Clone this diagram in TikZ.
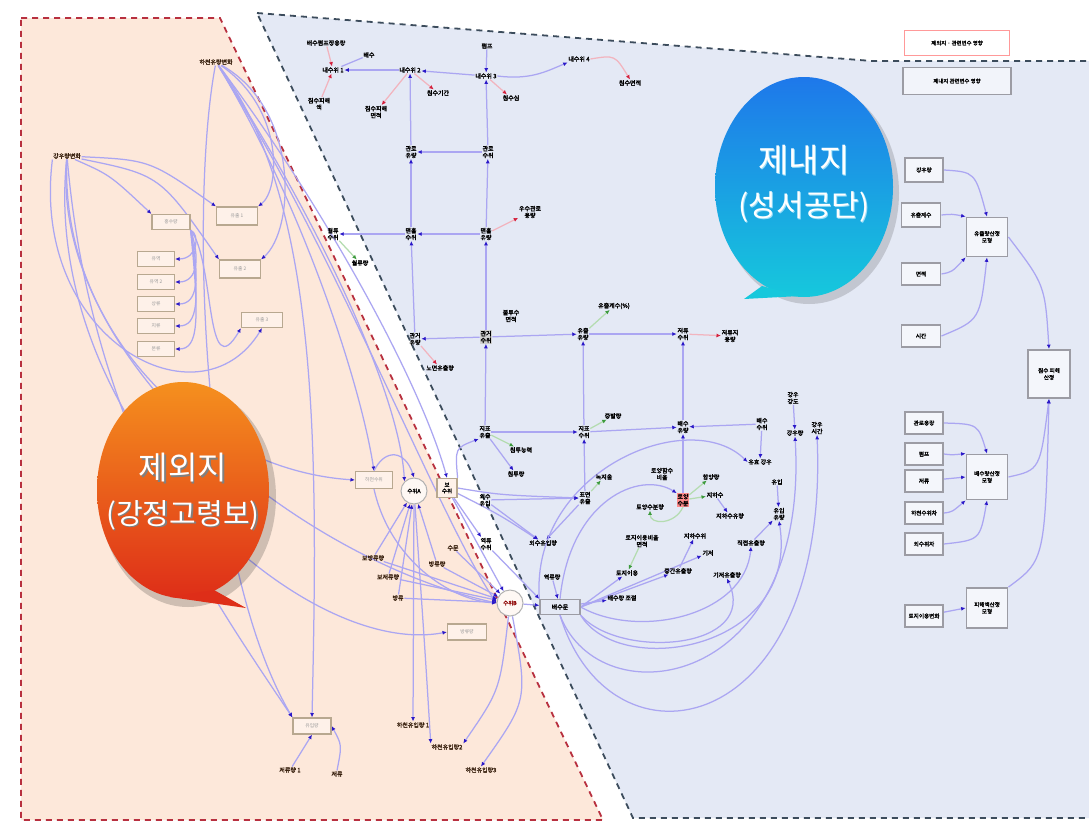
\documentclass[tikz,border=0pt]{standalone}
\usepackage{fontspec}
\newfontfamily\kr{Noto Sans CJK KR}
\newfontfamily\krb[FakeBold=2.2]{Noto Sans CJK KR}
\usetikzlibrary{arrows.meta}
\definecolor{peach}{HTML}{FDE8DA}
\definecolor{paleblue}{HTML}{E4E9F5}
\definecolor{redline}{HTML}{B8303F}
\definecolor{slateline}{HTML}{3C4C5C}
\definecolor{edgeblue}{HTML}{ABA6F2}
\definecolor{headblue}{HTML}{2A18C8}
\definecolor{edgered}{HTML}{F2B4BE}
\definecolor{headred}{HTML}{D4203C}
\definecolor{edgegreen}{HTML}{B4DCB0}
\definecolor{headgreen}{HTML}{3C9A3C}
\definecolor{boxbrown}{HTML}{B8A890}
\definecolor{boxgray}{HTML}{9C9CA4}
\definecolor{orangetop}{HTML}{F5901E}
\definecolor{orangebot}{HTML}{DE2E18}
\definecolor{bluetop}{HTML}{1E78EA}
\definecolor{bluebot}{HTML}{16C8DC}
\definecolor{labelbrown}{HTML}{3A2210}
\pgfdeclarelayer{bg}
\pgfdeclarelayer{edgelayer}
\pgfdeclarelayer{fg}
\pgfsetlayers{bg,edgelayer,main,fg}
\tikzset{
  lbl/.style={font=\krb\fontsize{6}{6.8}\selectfont, text=black, inner sep=0.6pt, align=center},
  lbn/.style={lbl, text=labelbrown},
  lbox/.style={draw=boxbrown, line width=1.2pt, fill=peach!60!white, minimum width=38pt, minimum height=15pt,
    inner sep=1pt, align=center, font=\kr\fontsize{4.8}{5.4}\selectfont, text=black!40},
  rbox/.style={draw=boxgray, line width=1.9pt, fill=paleblue!40!white, align=center, inner sep=1pt,
    font=\krb\fontsize{5.6}{6.8}\selectfont},
  ring/.style={circle, draw=black!30, line width=1pt, fill=white!70!peach, minimum size=26pt, inner sep=0pt,
    font=\krb\fontsize{5.4}{6}\selectfont},
  ed/.style={draw=edgeblue, line width=1.25pt, -{Latex[length=4.4pt,width=4pt,color=headblue]}},
  edr/.style={draw=edgered, line width=1.25pt, -{Latex[length=4.4pt,width=4pt,color=headred]}},
  edg/.style={draw=edgegreen, line width=1.25pt, -{Latex[length=4.4pt,width=4pt,color=headgreen]}},
  pl/.style={draw=edgeblue, line width=1.25pt},
  bigtxt/.style={font=\kr\fontsize{#1}{#1}\selectfont, text=white, inner sep=0pt},
}
\begin{document}
\begin{tikzpicture}[x=1pt,y=-1pt]
\useasboundingbox (0,0) rectangle (1089,828);
\clip (0,0) rectangle (1089,828);

% ---------- regions ----------
\begin{pgfonlayer}{bg}
  \fill[white] (0,0) rectangle (1089,828);
  \draw[fill=peach, draw=redline, line width=1.8pt, dash pattern=on 6pt off 5pt]
    (21,18) -- (220,18) -- (603,820) -- (21,820) -- cycle;
  \draw[fill=paleblue, draw=slateline, line width=1.8pt, dash pattern=on 6pt off 5pt]
    (257,13) -- (872,61) -- (1100,61) -- (1100,818) -- (633,818) -- cycle;
\end{pgfonlayer}

% ---------- outer-side variables ----------
\node[lbn] (P1) at (216,62) {하천유량변화};
\node[lbn] (P2) at (67,156) {강우량변화};
\node[lbox] (Q1) at (171,222) {홍수량};
\node[lbox, minimum width=41pt, minimum height=18pt] (Q2) at (237,216) {유출 1};
\node[lbox, minimum width=41pt, minimum height=18pt] (Q3) at (240,269) {유출 2};
\node[lbox, minimum width=37pt] (R1) at (156,259) {유역};
\node[lbox, minimum width=37pt] (R2) at (156,282) {유역 2};
\node[lbox, minimum width=37pt] (R3) at (156,304) {상류};
\node[lbox, minimum width=37pt] (R4) at (156,326) {지류};
\node[lbox, minimum width=37pt] (R5) at (156,349) {본류};
\node[lbox, minimum width=41pt] (Q4) at (262,320) {유출 3};
\node[lbox, minimum width=37pt, minimum height=17pt] (S1) at (374,480) {하천수위};
\node[ring] (C1) at (414,491) {수위A};
\node[lbox, minimum width=20pt, minimum height=19pt, text=black, font=\krb\fontsize{5.4}{6.2}\selectfont] (S2) at (447,488) {보\\수위};
\node[ring, text=red!55!black] (C2) at (510,603) {수위B};
\node[lbox, minimum width=39pt, minimum height=16pt] (S3) at (467,632) {방류량};
\node[lbox, minimum width=38pt, minimum height=16pt] (S4) at (312,726) {유입량};
\node[lbn] (T1) at (290,770) {저류량 1};
\node[lbn] (T2) at (337,774) {저류};
\node[lbn] (U1) at (413,725) {하천유입량 1};
\node[lbn] (U2) at (447,747) {하천유입량2};
\node[lbn] (U3) at (481,770) {하천유입량3};
\node[lbn] (V1) at (373,558) {보방류량};
\node[lbn] (V2) at (388,577) {보저류량};
\node[lbn] (V3) at (398,598) {방류};
\node[lbn] (V4) at (437,564) {방류량};
\node[lbn] (V5) at (453,548) {수문};

% ---------- inner-side network ----------
\node[lbl] (La) at (326,43) {배수펌프장용량};
\node[lbl] (Lb) at (369,55) {배수};
\node[lbl] (Lc) at (333,70) {내수위 1};
\node[lbl] (Ld) at (410,70) {내수위 2};
\node[lbl] (Le) at (486,76) {내수위 3};
\node[lbl] (Lf) at (487,46) {펌프};
\node[lbl] (Lg) at (579,59) {내수위 4};
\node[lbl] (Lh) at (630,83) {침수면적};
\node[lbl] (Li) at (511,98) {침수심};
\node[lbl] (Lj) at (319,104) {침수피해\\액};
\node[lbl] (Lk) at (376,112) {침수피해\\면적};
\node[lbl] (Ll) at (438,93) {침수기간};
\node[lbl] (Lm) at (411,152) {관로\\유량};
\node[lbl] (Ln) at (488,152) {관로\\수위};
\node[lbl] (Lo) at (411,234) {맨홀\\수위};
\node[lbl] (Lp) at (486,234) {맨홀\\유량};
\node[lbl] (Lq) at (333,234) {월류\\수위};
\node[lbl] (Lr) at (360,263) {월류량};
\node[lbl] (Ls) at (530,212) {우수관로\\용량};
\node[lbl] (Lt) at (415,339) {관거\\유량};
\node[lbl, fill=black!18] (Lu) at (486,337) {관거\\수위};
\node[lbl] (Lv) at (511,316) {불투수\\면적};
\node[lbl] (Lw) at (440,368) {노면유출량};
\node[lbl] (Lx) at (583,334) {유출\\유량};
\node[lbl] (Ly) at (614,306) {유출계수(\%)};
\node[lbl] (Lz) at (683,334) {저류\\수위};
\node[lbl] (Laa) at (730,336) {저류지\\용량};
\node[lbl] (N1) at (485,432) {지표\\유출};
\node[lbl] (N2) at (584,432) {지표\\수위};
\node[lbl] (N3) at (683,427) {배수\\유량};
\node[lbl] (N4) at (762,424) {배수\\수위};
\node[lbl] (N5) at (613,416) {증발량};
\node[lbl] (N6) at (521,450) {침투능력};
\node[lbl] (N7) at (516,474) {침투량};
\node[lbl] (N8) at (793,398) {강우\\강도};
\node[lbl] (N9) at (795,433) {강우량};
\node[lbl] (N11) at (817,428) {강우\\시간};
\node[lbl] (N10) at (760,462) {유효 강우};
\node[lbl] (N12) at (777,482) {유입};
\node[lbl] (N13) at (779,514) {유입\\유량};
\node[lbl] (N14) at (751,543) {직접유출량};
\node[lbl] (N15) at (708,553) {기저};
\node[lbl] (N16) at (727,575) {기저유출량};
\node[lbl] (N17) at (678,571) {중간유출량};
\node[lbl] (N18) at (695,536) {지하수위};
\node[lbl] (N19) at (650,507) {토양수분량};
\node[lbl] (N20) at (662,474) {토양함수\\비율};
\node[lbl] (N21) at (711,477) {함양량};
\node[lbl] (N22) at (715,495) {지하수};
\node[lbl] (N23) at (730,516) {지하수유량};
\node[lbl, fill=red!45!white] (Nred) at (683,500) {토양\\수분};
\node[lbl] (N24) at (642,541) {토지이용비율\\면적};
\node[lbl] (N25) at (627,573) {토지이용};
\node[lbl] (N26) at (604,477) {녹지율};
\node[lbl] (N27) at (585,498) {표면\\유출};
\node[lbl] (N28) at (485,500) {외수\\유입};
\node[lbl] (N29) at (543,543) {외수유입량};
\node[lbl] (N30) at (486,544) {역류\\수위};
\node[lbl] (N32) at (552,577) {역류량};
\node[lbl] (N33) at (622,598) {배수량 조절};
\node[lbl, draw=boxgray, line width=1.3pt, fill=paleblue, minimum width=40pt, minimum height=15pt] (M) at (560,607) {배수문};

% ---------- model blocks ----------
\node[rbox, minimum width=38pt, minimum height=24pt] (A1) at (924,170) {강우량};
\node[rbox, minimum width=39pt, minimum height=24pt] (A2) at (921,215) {유출계수};
\node[rbox, minimum width=39pt, minimum height=22pt] (A3) at (921,274) {면적};
\node[rbox, minimum width=39pt, minimum height=22pt] (A4) at (921,336) {시간};
\node[rbox, minimum width=41pt, minimum height=39pt] (H1) at (987,237) {유출량산정\\모형};
\node[rbox, minimum width=42pt, minimum height=48pt] (HB) at (1049,374) {침수 피해\\산정};
\node[rbox, minimum width=38pt, minimum height=22pt] (B1) at (924,423) {관로용량};
\node[rbox, minimum width=38pt, minimum height=22pt] (B2) at (924,454) {펌프};
\node[rbox, minimum width=38pt, minimum height=22pt] (B3) at (924,481) {저류};
\node[rbox, minimum width=38pt, minimum height=22pt] (B4) at (924,513) {하천수위차};
\node[rbox, minimum width=38pt, minimum height=22pt] (B5) at (924,544) {외수위차};
\node[rbox, minimum width=41pt, minimum height=45pt] (H2) at (987,477) {배수량산정\\모형};
\node[rbox, minimum width=38pt, minimum height=22pt] (CC1) at (924,616) {토지이용변화};
\node[rbox, minimum width=41pt, minimum height=40pt] (H3) at (987,608) {피해액산정\\모형};

% ---------- legend ----------
\node[draw=red!40!white, line width=1.3pt, fill=white, minimum width=105pt, minimum height=25pt,
  font=\krb\fontsize{5.4}{6}\selectfont] (G1) at (957,43) {제외지 · 관련변수 영향};
\node[draw=boxgray, line width=1.3pt, fill=paleblue!50!white, minimum width=108pt, minimum height=27pt,
  font=\krb\fontsize{5.4}{6}\selectfont] (G2) at (957,81) {제내지 관련변수 영향};

% ---------- connectors ----------
\begin{pgfonlayer}{edgelayer}
  % outer side
  \draw[ed] (P2) .. controls (110,175) .. (Q1.north west);
  \draw[ed] (P2) .. controls (150,160) .. (Q2.north west);
  \draw[ed] (P2) .. controls (160,175) .. (Q3.north west);
  \draw[ed] (P2.south west) .. controls (30,340) and (200,430) .. (Q4.south);
  \draw[ed] (P2) .. controls (60,330) and (200,470) .. (S1.west);
  \draw[ed] (P2) .. controls (50,360) and (300,560) .. (C2.west);
  \draw[ed] (P2) .. controls (40,420) and (300,660) .. (S3.west);
  \draw[ed] (P2) .. controls (90,420) and (200,580) .. (S4.north west);
  \draw[ed] (P1) .. controls (285,110) and (280,190) .. (Q2.north east);
  \draw[ed] (P1) .. controls (300,110) and (295,230) .. (Q3.north east);
  \draw[ed] (P1) .. controls (190,200) and (200,560) .. (S4.north west);
  \draw[ed] (P1) .. controls (320,200) and (318,450) .. (S4.north);
  \draw[ed] (P1) .. controls (300,200) and (360,380) .. (S1.north);
  \draw[ed] (P1) .. controls (320,200) and (420,380) .. (S2.north);
  \draw[ed] (P1) .. controls (340,260) and (440,520) .. (C2.west);
  \draw[ed] (P1) .. controls (330,240) and (400,400) .. (C1.north west);
  \foreach \r/\yy in {R1/259,R2/282,R3/304,R4/326,R5/349}
    \draw[ed] (Q1.south east) .. controls (200,\yy-25) and (198,\yy) .. (\r.east);
  \draw[ed] (Q1.south east) .. controls (215,260) and (205,390) .. (Q4.south west);
  \draw[ed] (S1.north) .. controls (385,448) and (405,450) .. (C1.north);
  \draw[ed] (S1.south) .. controls (390,560) and (450,600) .. (C2.west);
  \draw[ed] (V1) -- (C1);
  \draw[ed] (V2) -- (C1);
  \draw[ed] (V3) -- (C1);
  \draw[ed] (V4) -- (C1);
  \draw[ed] (V1) -- (C2);
  \draw[ed] (V2) -- (C2);
  \draw[ed] (V3) -- (C2);
  \draw[ed] (V4) -- (C2);
  \draw[ed] (V5) -- (C2);
  \draw[ed] (S2) -- (C2);
  \draw[ed] (C1) -- (U1);
  \draw[ed] (C1) .. controls (425,650) .. (U2.north west);
  \draw[ed] (C2) .. controls (500,690) .. (U2.north east);
  \draw[ed] (C2) .. controls (528,700) .. (U3.north);
  \draw[ed] (T1) -- (S4.south);
  \draw[ed] (T2.north) .. controls (342,745) .. (S4.east);
  % crossing into the inner side
  \draw[ed] (C2) -- (M);
  \draw[ed] (S2.east) .. controls (500,495) .. (N27.west);
  \draw[ed] (S2.north east) .. controls (455,448) .. (N1.south west);
  \draw[ed] (S2) -- (N30);
  \draw[ed] (S2) .. controls (500,515) .. (N29);
  \draw[ed] (N30) -- (M.north west);
  \draw[ed] (N32) -- (M);
  % inner side, upper grid
  \draw[edr] (La) -- (Lc);
  \draw[pl] (Lb) -- (Lc);
  \draw[ed] (Ld) -- (Lc);
  \draw[ed] (Le) -- (Ld);
  \draw[ed] (Lf) -- (Le);
  \draw[ed] (Le.east) .. controls (530,80) and (545,72) .. (Lg.south west);
  \draw[edr] (Lg.east) .. controls (615,55) .. (Lh.north);
  \draw[edr] (Le) -- (Li);
  \draw[edr] (Lj) -- (Lc);
  \draw[edr] (Ld) -- (Lk);
  \draw[edr] (Ld) -- (Ll);
  \draw[ed] (Lm) -- (Ld);
  \draw[ed] (Ln) -- (Le);
  \draw[ed] (Ln) -- (Lm);
  \draw[ed] (Lo) -- (Lm);
  \draw[ed] (Lp) -- (Ln);
  \draw[ed] (Lp) -- (Lo);
  \draw[ed] (Lo) -- (Lq);
  \draw[edg] (Lq) -- (Lr);
  \draw[edr] (Lp) -- (Ls);
  \draw[ed] (Lt) -- (Lo);
  \draw[ed] (Lu) -- (Lp);
  \draw[ed] (Lu) -- (Lt);
  \draw[edr] (Lt) -- (Lw);
  \draw[ed] (Lu) -- (Lx);
  \draw[edg] (Lx) -- (Ly);
  \draw[ed] (Lx) -- (Lz);
  \draw[edr] (Lz) -- (Laa);
  \draw[ed] (N1) -- (Lu);
  \draw[ed] (N2) -- (Lx);
  \draw[ed] (N3) -- (Lz);
  \draw[ed] (N1) -- (N2);
  \draw[ed] (N2) -- (N3);
  \draw[ed] (N4) -- (N3);
  \draw[edg] (N2) -- (N5);
  \draw[edg] (N1) -- (N6);
  \draw[ed] (N1) -- (N7);
  \draw[ed] (N27) -- (N2);
  \draw[edg] (N27) -- (N26);
  \draw[ed] (N28) -- (N27);
  \draw[ed] (N28) -- (N29);
  \draw[ed] (N27) -- (N29);
  \draw[ed] (Nred) -- (N3);
  \draw[ed] (N4) -- (N10);
  \draw[ed] (N8) -- (N9);
  \draw[ed] (N12) -- (N13);
  \draw[ed] (N14) -- (N13);
  \draw[edg] (Nred.south) .. controls (675,525) and (650,525) .. (N19.south);
  \draw[edg] (Nred) -- (N21);
  \draw[edg] (Nred) -- (N22);
  \draw[ed] (N22) -- (N23);
  \draw[edg] (N24) -- (N25);
  \draw[ed] (N17) -- (N18);
  % inner side, fan from the sluice
  \draw[ed] (M) -- (N33);
  \draw[ed] (M.east) -- (N25);
  \draw[ed] (M.east) -- (N17);
  \draw[ed] (M.east) -- (N15);
  \draw[ed] (M.north west) .. controls (530,470) and (690,405) .. (N10.west);
  \draw[ed] (M.north) .. controls (570,500) and (640,470) .. (Nred.north west);
  \draw[ed] (M.east) .. controls (640,640) and (745,615) .. (N14.south);
  \draw[ed] (M.south east) .. controls (620,660) and (760,650) .. (N16.south);
  \draw[ed] (M.south east) .. controls (620,680) and (800,650) .. (N13.south);
  \draw[ed] (M.south) .. controls (600,720) and (810,690) .. (N9.south);
  \draw[ed] (M.south) .. controls (610,780) and (830,740) .. (N11.south);
  % model blocks
  \draw[ed] (A1.east) .. controls (975,172) .. (H1.north);
  \draw[ed] (A2.east) .. controls (952,214) .. (H1.north west);
  \draw[ed] (A3.east) .. controls (952,272) .. (H1.south west);
  \draw[ed] (A4.east) .. controls (980,320) .. (H1.south);
  \draw[ed] (H1.east) .. controls (1045,285) .. (HB.north);
  \draw[ed] (B1.east) .. controls (978,424) .. (H2.north);
  \draw[ed] (B2.east) .. controls (952,455) .. (H2.north west);
  \draw[ed] (B3) -- (H2.west);
  \draw[ed] (B4.east) .. controls (952,512) .. (H2.south west);
  \draw[ed] (B5.east) .. controls (980,540) .. (H2.south);
  \draw[ed] (CC1) -- (H3.west);
  \draw[ed] (H2.east) .. controls (1040,470) .. (HB.south);
  \draw[ed] (H3.north east) .. controls (1045,560) .. (HB.south);
\end{pgfonlayer}

% ---------- speech bubbles ----------
\begin{pgfonlayer}{fg}
  \fill[black, opacity=0.18] (188,497) ellipse [x radius=88, y radius=110];
  \shade[top color=orangetop, bottom color=orangebot]
    (183,490) ellipse [x radius=86, y radius=108];
  \fill[orangebot] (214,590) -- (246,608) -- (170,597) -- cycle;
  \node[bigtxt=32, text=black!50] at (184.5,469.5) {제외지};
  \node[bigtxt=32] (t1) at (183,468) {제외지};
  \node[bigtxt=29, text=black!50] at (184.5,516.5) {(강정고령보)};
  \node[bigtxt=29] (t2) at (183,515) {(강정고령보)};

  \fill[black, opacity=0.15] (809,193) ellipse [x radius=90, y radius=111];
  \shade[top color=bluetop, bottom color=bluebot]
    (804,187) ellipse [x radius=89, y radius=110];
  \fill[bluebot] (762,286) -- (744,299) -- (800,296) -- cycle;
  \node[bigtxt=33, text=cyan!40!white] at (805,161) {제내지};
  \node[bigtxt=33] (t3) at (804,160) {제내지};
  \node[bigtxt=30, text=cyan!40!white] at (805,208) {(성서공단)};
  \node[bigtxt=30] (t4) at (804,207) {(성서공단)};
\end{pgfonlayer}
\end{tikzpicture}
\end{document}
